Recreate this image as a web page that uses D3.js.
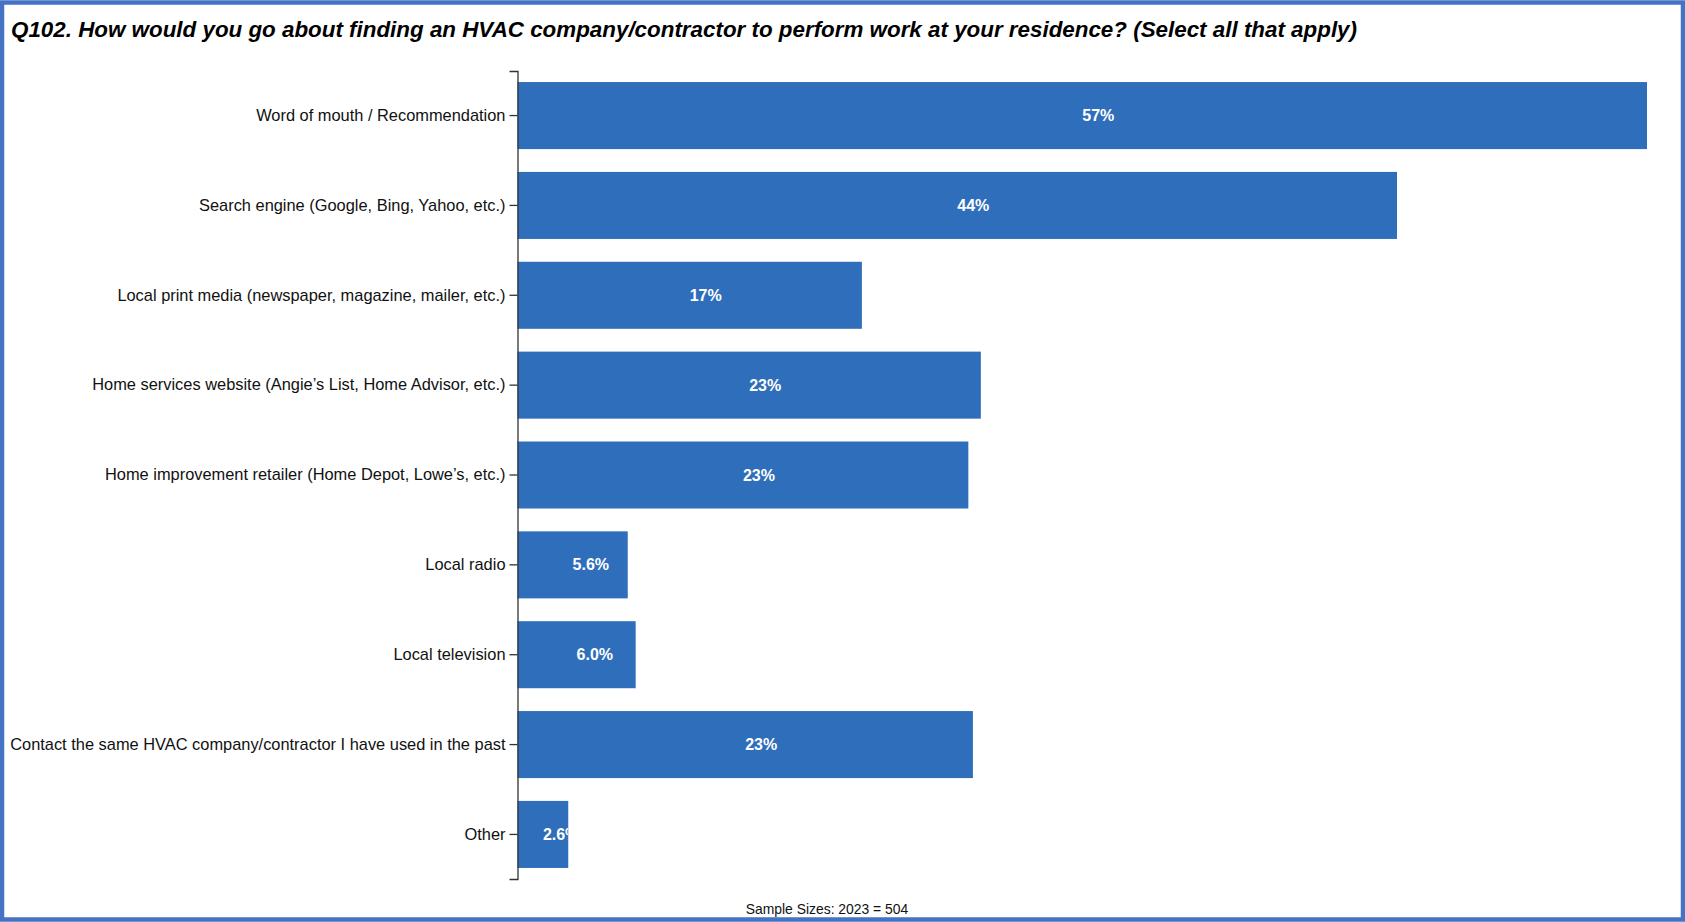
<!DOCTYPE html>
<html>
<head>
<meta charset="utf-8">
<script src="https://cdn.jsdelivr.net/npm/d3@7"></script>
<style>
  html, body { margin: 0; padding: 0; background: #fff; }
  svg { display: block; font-family: "Liberation Sans", Arial, Helvetica, sans-serif; }
</style>
</head>
<body>
<div id="container"></div>
<script>
const width = 1685;
const height = 922;

const title = 'Q102. How would you go about finding an HVAC company/contractor to perform work at your residence? (Select all that apply)';
const footnote = 'Sample Sizes: 2023 = 504';

const categories = [
  'Word of mouth / Recommendation',
  'Search engine (Google, Bing, Yahoo, etc.)',
  'Local print media (newspaper, magazine, mailer, etc.)',
  'Home services website (Angie\u2019s List, Home Advisor, etc.)',
  'Home improvement retailer (Home Depot, Lowe\u2019s, etc.)',
  'Local radio',
  'Local television',
  'Contact the same HVAC company/contractor I have used in the past',
  'Other'
];
const values = [56.97, 44.36, 17.37, 23.37, 22.74, 5.56, 5.96, 22.97, 2.56];

const margin = {top: 71, right: 38, bottom: 43, left: 517.5};
const barColor = '#2f6eba';

function render() {
  const svg = d3.select('#container').append('svg')
    .attr('width', width)
    .attr('height', height)
    .attr('viewBox', [0, 0, width, height]);

  // blue frame round the whole picture
  svg.append('rect')
    .attr('x', 2).attr('y', 2.5)
    .attr('width', width - 4).attr('height', height - 5)
    .attr('fill', 'none')
    .attr('stroke', '#4472c4')
    .attr('stroke-width', 4.5);

  svg.append('text')
    .attr('x', 11)
    .attr('y', 36.5)
    .attr('font-size', 21.5)
    .attr('font-weight', 'bold')
    .attr('font-style', 'italic')
    .attr('textLength', 1346)
    .attr('lengthAdjust', 'spacingAndGlyphs')
    .attr('fill', '#000')
    .text(title);

  const x = d3.scaleLinear()
    .domain([0, d3.max(values)])
    .range([margin.left, width - margin.right]);

  const y = d3.scaleBand()
    .domain(categories)
    .range([margin.top, height - margin.bottom])
    .paddingInner(0.254)
    .paddingOuter(0.123);

  const rows = categories.map((c, i) => ({name: c, value: values[i], i}));

  const defs = svg.append('defs');
  defs.selectAll('clipPath')
    .data(rows)
    .join('clipPath')
    .attr('id', d => 'clip' + d.i)
    .append('rect')
    .attr('x', x(0))
    .attr('y', d => y(d.name))
    .attr('width', d => x(d.value) - x(0))
    .attr('height', y.bandwidth());

  svg.append('g')
    .selectAll('rect')
    .data(rows)
    .join('rect')
    .attr('x', x(0))
    .attr('y', d => y(d.name))
    .attr('width', d => x(d.value) - x(0))
    .attr('height', y.bandwidth())
    .attr('fill', barColor);

  // value labels start at the bar middle and are clipped to the bar
  svg.append('g')
    .selectAll('text')
    .data(rows)
    .join('text')
    .attr('clip-path', d => 'url(#clip' + d.i + ')')
    .attr('x', d => (x(0) + x(d.value)) / 2)
    .attr('y', d => y(d.name) + y.bandwidth() / 2)
    .attr('dy', '0.35em')
    .attr('fill', '#fff')
    .attr('font-size', 16)
    .attr('font-weight', 'bold')
    .text(d => d.value.toPrecision(2) + '%');

  const axis = svg.append('g')
    .attr('transform', `translate(${x(0)},0)`)
    .call(d3.axisLeft(y).tickSize(8).tickPadding(4));

  axis.selectAll('path, line')
    .attr('stroke', '#333')
    .attr('stroke-width', 1.3);
  axis.selectAll('text')
    .attr('font-size', 16.4)
    .attr('font-family', '"Liberation Sans", Arial, sans-serif')
    .attr('fill', '#111');

  svg.append('text')
    .attr('x', 827)
    .attr('y', 914)
    .attr('text-anchor', 'middle')
    .attr('font-size', 13.9)
    .attr('fill', '#111')
    .text(footnote);
}

window.addEventListener('load', render);
</script>
</body>
</html>
